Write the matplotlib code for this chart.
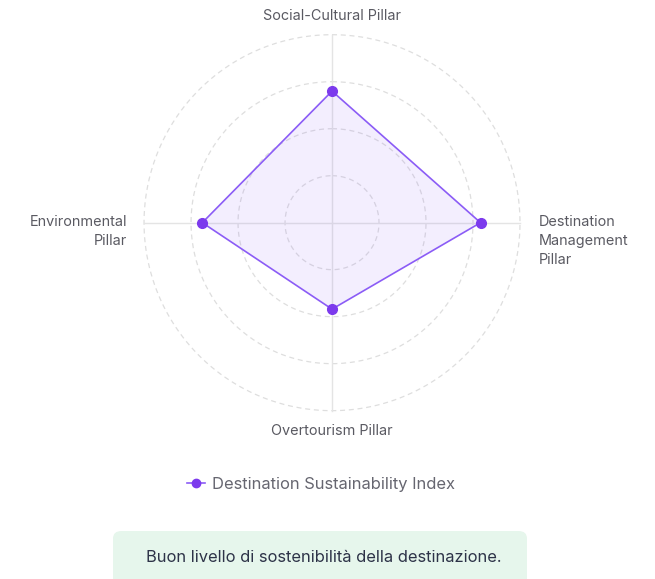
import numpy as np
import matplotlib.pyplot as plt
from matplotlib.patches import FancyBboxPatch
from matplotlib.lines import Line2D

plt.rcParams['font.family'] = ['Inter', 'DejaVu Sans']

# data
pillars = ["Social-Cultural Pillar", "Destination\nManagement\nPillar",
           "Overtourism Pillar", "Environmental\nPillar"]
scores = [70, 79, 46, 69]
ring_values = [25, 50, 75, 100]
series_name = "Destination Sustainability Index"
verdict = "Buon livello di sostenibilità della destinazione."

line_col = "#8b5cf6"
dot_col = "#7c3aed"
label_col = "#5a5a62"

fig = plt.figure(figsize=(6.55, 5.79), dpi=100)
ax = fig.add_axes([0.2199, 0.2907, 0.574, 0.6494], projection="polar")
ax.set_theta_offset(np.pi / 2)
ax.set_theta_direction(-1)
ax.set_ylim(0, 100)

angles = np.linspace(0, 2 * np.pi, len(pillars), endpoint=False)
a_closed = np.append(angles, angles[0])
s_closed = np.append(scores, scores[0])

ax.fill(a_closed, s_closed, color=line_col, alpha=0.1, lw=0, zorder=2)
ax.plot(a_closed, s_closed, color=line_col, lw=1.2, zorder=3)
ax.plot(angles, scores, "o", color=dot_col, ms=7, zorder=4)

# grid
ax.grid(False)
ax.spines["polar"].set_visible(False)
ax.set_xticks([])
ax.set_yticks([])
t = np.linspace(0, 2 * np.pi, 400)
for r in ring_values:
    ax.plot(t, np.full_like(t, r), color="#dedede", lw=0.9, ls=(0, (4, 3)),
            zorder=1, clip_on=False)
for a in angles:
    ax.plot([a, a], [0, ring_values[-1]], color="#e4e4e4", lw=1, zorder=1, clip_on=False)

# point labels
fs = 10.4
for a, lab in zip(angles, pillars):
    deg = np.degrees(a) % 360
    if deg == 0:
        ax.text(a, 110, lab, ha="center", va="center", fontsize=fs, color=label_col)
    elif deg == 180:
        ax.text(a, 111, lab, ha="center", va="center", fontsize=fs, color=label_col)
    else:
        ax.annotate(lab, xy=(a, 110), xytext=(1.5 if deg == 270 else 0, 5.5),
                    textcoords="offset points",
                    ha="left" if deg == 90 else "right", va="top",
                    fontsize=fs, color=label_col, linespacing=1.45,
                    annotation_clip=False)

# legend
h = Line2D([], [], color=line_col, lw=1.2, marker="o", ms=6, mfc=dot_col, mec=dot_col)
fig.legend([h], [series_name], loc="center", bbox_to_anchor=(321 / 655, 1 - 484 / 579),
           frameon=False, fontsize=11.9, handlelength=1.1, handletextpad=0.45,
           labelcolor="#666670")

# verdict box
W, H = 655, 579
box = FancyBboxPatch((113 / W, 1 - 590 / H), 414 / W, 59 / H,
                     boxstyle="round,pad=0,rounding_size=0.013",
                     transform=fig.transFigure, facecolor="#e6f6ec", edgecolor="none")
fig.patches.append(box)
fig.text(324 / W, 1 - 557 / H, verdict, ha="center", va="center",
         fontsize=11.9, color="#2d3348")

fig.savefig("out.png", dpi=100)
